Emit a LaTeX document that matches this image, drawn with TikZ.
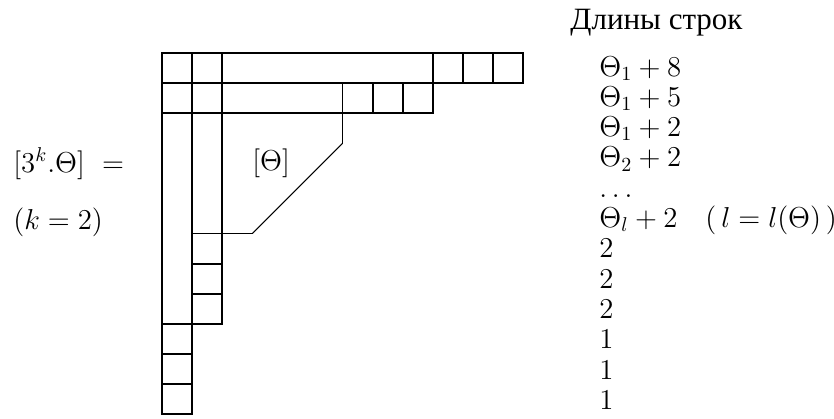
\documentclass[tikz,border=0pt]{standalone}
\usepackage{fontspec}
\newfontfamily\cyrfont{Liberation Serif}
\begin{document}
\begin{tikzpicture}[x=0.5pt,y=-0.5pt]
\tikzset{
  txt/.style={inner sep=0pt, anchor=base west, font=\fontsize{14}{17}\selectfont},
  grid line/.style={line width=0.85pt, line cap=rect},
  heavy line/.style={line width=1.2pt},
  slant line/.style={line width=0.5pt}
}
\useasboundingbox (0,0) rectangle (834,418);
\begin{scope}[xshift=81pt, yshift=-26.5pt, x=15.05pt, y=-15.05pt]
  % outer outline
  \draw[grid line] (0,0) -- (12,0) -- (12,1) -- (9,1) -- (9,2) -- (2,2) -- (2,9) -- (1,9) -- (1,12) -- (0,12) -- cycle;
  % row separators
  \draw[grid line] (0,1) -- (9,1);
  \draw[grid line] (0,2) -- (2,2);
  % column separators
  \draw[grid line] (1,0) -- (1,12);
  \draw[grid line] (2,0) -- (2,2);
  % row 1 cells
  \foreach \i in {9,10,11} \draw[grid line] (\i,0) -- (\i,1);
  % row 2 cells
  \foreach \i in {6,7} \draw[grid line] (\i,1) -- (\i,2);
  \draw[heavy line] (8,1) -- (8,2);
  % column 2 cells
  \draw[grid line] (1,6) -- (3,6);
  \draw[heavy line] (1,7) -- (2,7);
  \draw[grid line] (1,8) -- (2,8);
  % column 1 cells
  \draw[grid line] (0,9) -- (1,9);
  \draw[grid line] (0,10) -- (1,10);
  \draw[heavy line] (0,11) -- (1,11);
  % Theta region
  \draw[grid line] (6,2) -- (6,3);
  \draw[slant line] (6,3) -- (3,6);
\end{scope}
\node[txt] (lab) at (252,170) {$[\Theta]$};
\node[txt] (lhs) at (13,172) {$[3^k.\Theta]\ =$};
\node[txt] (kk) at (13,229) {$(k=2)$};
\node[txt, font=\cyrfont\fontsize{15.5}{18}\selectfont] (head) at (570,29) {Длины строк};
\node[txt] (r0) at (599,76) {$\Theta_1+8$};
\node[txt] (r1) at (599,106.3) {$\Theta_1+5$};
\node[txt] (r2) at (599,136.6) {$\Theta_1+2$};
\node[txt] (r3) at (599,166.9) {$\Theta_2+2$};
\node[txt] (r4) at (599,197.2) {$\ldots$};
\node[txt] (r5) at (599,227.5) {$\Theta_l+2\quad(\,l=l(\Theta)\,)$};
\node[txt] (r6) at (599,257.8) {$2$};
\node[txt] (r7) at (599,288.1) {$2$};
\node[txt] (r8) at (599,318.4) {$2$};
\node[txt] (r9) at (599,348.7) {$1$};
\node[txt] (r10) at (599,379) {$1$};
\node[txt] (r11) at (599,409.3) {$1$};
\end{tikzpicture}
\end{document}
